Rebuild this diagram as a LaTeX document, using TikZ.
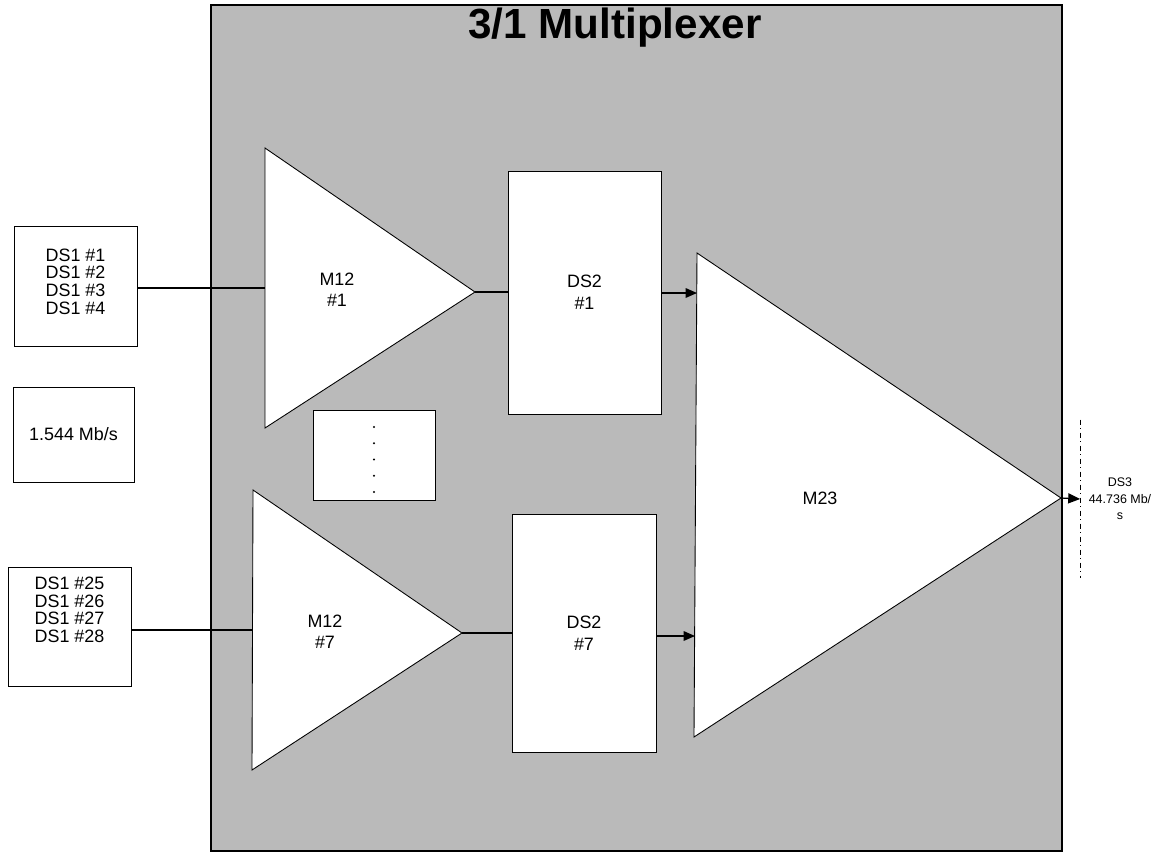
\documentclass[tikz,border=0pt]{standalone}
\usepackage{fontspec}
\setmainfont{Liberation Sans}
\usetikzlibrary{arrows.meta}

\begin{document}
\begin{tikzpicture}[x=0.02cm, y=-0.02cm, >={Triangle[length=6.5pt, width=5.5pt]},
    panel/.style={fill=black!27, draw=black, line width=0.7pt},
    box/.style={draw, line width=0.5pt, fill=white, align=center, inner sep=0pt,
      font=\fontsize{10.2}{10}\selectfont},
    tri/.style={draw, line width=0.5pt, fill=white},
    wire/.style={draw, line width=0.7pt},
    lbl/.style={align=center, font=\fontsize{10.2}{12}\selectfont}]
  \useasboundingbox (0,0) rectangle (1161,863);
  % shaded panel of the multiplexer
  \path[panel] (211,5) rectangle (1062,851);
  \node[anchor=base, font=\fontsize{24}{24}\selectfont\bfseries] (title) at (615,38)
    {3/1 Multiplexer};

  % DS1 inputs
  \node[box, minimum width=2.46cm, minimum height=2.4cm] (dsA) at (75.5,286)
    {\raisebox{1pt}[\height][\depth]{\begin{tabular}{@{}c@{}}DS1 \#1\\DS1 \#2\\DS1 \#3\\DS1 \#4\end{tabular}}};
  \node[box, minimum width=2.42cm, minimum height=1.9cm] (rate) at (73.5,434.5)
    {1.544 Mb/s};
  \node[box, minimum width=2.46cm, minimum height=2.38cm] (dsC) at (69.5,626.5)
    {\raisebox{8pt}[\height][\depth]{\begin{tabular}{@{}c@{}}DS1 \#25\\DS1 \#26\\DS1 \#27\\DS1 \#28\end{tabular}}};

  % M12 stages
  \draw[tri] (265,148) -- (475,292) coordinate (mAtip) -- (265,428) -- cycle;
  \coordinate (mAin) at (265,288);
  \node[lbl] (mA) at (337,290) {M12\\\#1};
  \draw[tri] (253,490) -- (462,633) coordinate (mCtip) -- (252,770) -- cycle;
  \coordinate (mCin) at (253,630);
  \node[lbl] (mC) at (325,632) {M12\\\#7};

  % the M12s left out
  \node[box, minimum width=2.44cm, minimum height=1.8cm] (gap) at (374,455) {};
  \foreach \k in {0,...,4}
    \fill (374,427+16.25*\k) circle (0.6pt);

  % DS2 signals
  \node[box, font=\fontsize{10.2}{12.5}\selectfont, minimum width=3.06cm,
    minimum height=4.86cm] (dsTwoA) at (584.5,292.5) {DS2\\\#1};
  \node[box, font=\fontsize{10.2}{12.5}\selectfont, minimum width=2.88cm,
    minimum height=4.76cm] (dsTwoB) at (584,633) {DS2\\\#7};

  % M23 stage
  \draw[tri] (697,253) -- (1061,498) coordinate (mTtip) -- (694,737) -- cycle;
  \coordinate (mTinA) at (697,293);
  \coordinate (mTinB) at (695,636);
  \node[lbl] (mT) at (820,498) {M23};

  % DS3 output
  \node[align=center, font=\fontsize{7.1}{9.5}\selectfont, inner sep=0pt,
    minimum width=1.58cm, minimum height=3.16cm] (dsThree) at (1120,499)
    {DS3\\44.736 Mb/\\s};
  \draw[dashdotted, line width=0.5pt] (dsThree.north west) -- (dsThree.south west);

  % connections
  \draw[wire] (dsA.east |- mAin) -- (mAin);
  \draw[wire] (dsC.east |- mCin) -- (mCin);
  \draw[wire] (mAtip) -- (dsTwoA.west |- mAtip);
  \draw[wire] (mCtip) -- (dsTwoB.west |- mCtip);
  \draw[wire, ->] (dsTwoA.east |- mTinA) -- (mTinA);
  \draw[wire, ->] (dsTwoB.east |- mTinB) -- (mTinB);
  \draw[wire, -{Triangle[length=6.8pt, width=5.7pt]}] (mTtip) -- (dsThree.west);
\end{tikzpicture}
\end{document}
